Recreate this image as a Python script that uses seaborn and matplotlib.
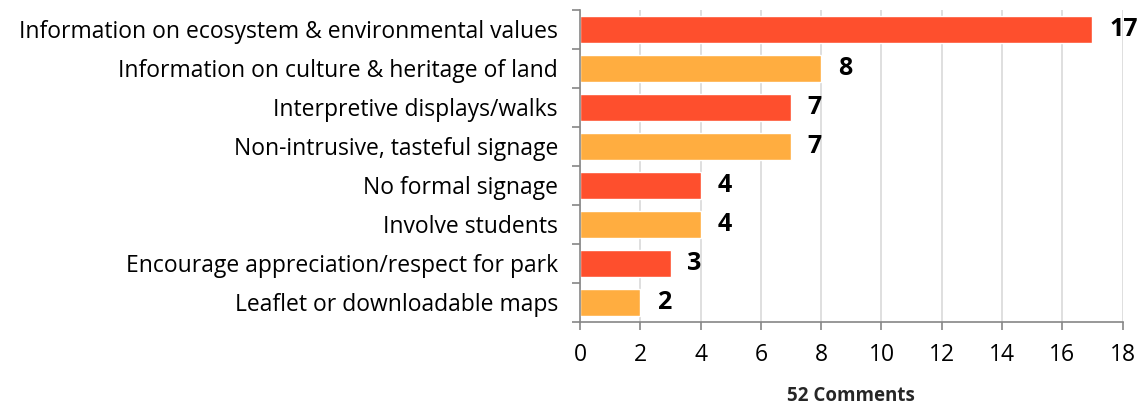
import matplotlib
matplotlib.use("Agg")
import matplotlib.pyplot as plt
import seaborn as sns
import pandas as pd

categories = [
    "Information on ecosystem & environmental values",
    "Information on culture & heritage of land",
    "Interpretive displays/walks",
    "Non-intrusive, tasteful signage",
    "No formal signage",
    "Involve students",
    "Encourage appreciation/respect for park",
    "Leaflet or downloadable maps",
]
counts = [17, 8, 7, 7, 4, 4, 3, 2]
bar_colors = ["#FE4F2D", "#FFAD40"] * 4
x_ticks = [0, 2, 4, 6, 8, 10, 12, 14, 16, 18]
x_title = "52 Comments"

df = pd.DataFrame({"category": categories, "count": counts})

sns.set_theme(style="white")
plt.rcParams["font.family"] = ["Open Sans", "DejaVu Sans"]

fig = plt.figure(figsize=(11.42, 4.09), dpi=100)
ax = fig.add_axes([0.508, 0.213, 0.475, 0.763])

sns.barplot(data=df, y="category", x="count", hue="category",
            palette=bar_colors, legend=False, width=0.7, saturation=1, ax=ax)

for i, v in enumerate(counts):
    ax.text(v + 0.55, i, str(v), va="center", ha="left",
            fontsize=18, fontweight="bold", color="black")

ax.set_xlim(0, 18)
ax.set_ylim(len(categories) - 0.5, -0.5)
ax.set_xticks(x_ticks)
ax.xaxis.grid(True, color="#D9D9D9", linewidth=1.2)
ax.set_axisbelow(True)
for s in ["top", "right"]:
    ax.spines[s].set_visible(False)
for s in ["left", "bottom"]:
    ax.spines[s].set_color("#868686")
    ax.spines[s].set_linewidth(1.2)

ax.set_yticks([i - 0.5 for i in range(len(categories) + 1)], minor=True)
ax.tick_params(axis="y", which="major", length=0, labelsize=16.5, pad=16, colors="black")
ax.tick_params(axis="y", which="minor", length=6, color="#868686", width=1.2, left=True)
ax.tick_params(axis="x", length=6, color="#868686", width=1.2, labelsize=16.5, pad=9,
               bottom=True, labelcolor="black")

ax.set_ylabel("")
ax.set_xlabel(x_title, fontsize=13.5, fontweight="bold", labelpad=14)

fig.savefig("out.png", dpi=100)
